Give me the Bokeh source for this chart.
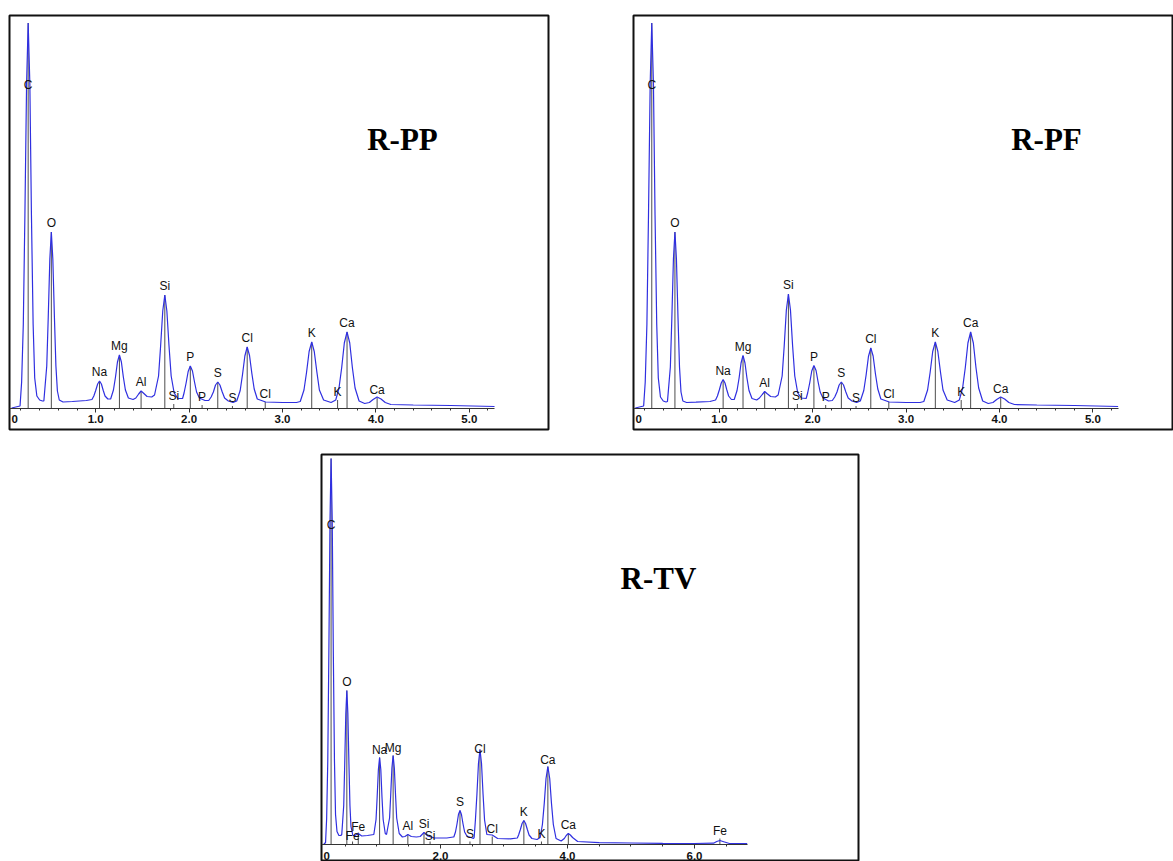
from bokeh.plotting import figure
from bokeh.models import LinearAxis, FixedTicker, Range1d, Spacer, Label, NumeralTickFormatter, ColumnDataSource
from bokeh.layouts import column, row
from bokeh.embed import file_html
from bokeh.resources import INLINE
from bokeh.core.properties import value

# ---------------- data (energy in keV, intensity in arbitrary counts) ----------------
# R-PP spectrum trace
rpp_energy = [0.10, 0.19, 0.207, 0.225, 0.242, 0.26, 0.277, 0.295, 0.312, 0.33, 0.347, 0.37, 0.40, 0.43,
              0.445, 0.476, 0.492, 0.509, 0.525, 0.541, 0.558, 0.574, 0.59, 0.61, 0.65, 0.75, 0.90,
              0.96, 0.98, 1.00, 1.021, 1.041, 1.061, 1.081, 1.10, 1.13,
              1.16, 1.19, 1.212, 1.233, 1.254, 1.275, 1.296, 1.318, 1.35, 1.40,
              1.43, 1.46, 1.486, 1.51, 1.55, 1.60,
              1.63, 1.673, 1.695, 1.718, 1.74, 1.762, 1.785, 1.808, 1.84, 1.88,
              1.93, 1.946, 1.968, 1.99, 2.013, 2.036, 2.058, 2.08, 2.11, 2.17,
              2.21, 2.236, 2.26, 2.283, 2.307, 2.33, 2.355, 2.38, 2.42, 2.47,
              2.51, 2.547, 2.572, 2.597, 2.622, 2.647, 2.672, 2.697, 2.73, 2.82, 3.00, 3.15,
              3.19, 3.23, 3.258, 3.285, 3.313, 3.34, 3.368, 3.395, 3.44, 3.52,
              3.57, 3.605, 3.634, 3.662, 3.691, 3.72, 3.748, 3.777, 3.82, 3.88,
              3.93, 3.97, 4.013, 4.055, 4.10, 4.16, 4.40, 4.80, 5.27]
rpp_counts = [0, 2, 26, 84, 193, 324, 385, 324, 193, 84, 30, 12, 8, 7,
              7, 42, 91, 149, 176, 149, 91, 42, 17, 8, 6, 6.5, 7.5,
              8.5, 12, 17.5, 24, 27, 24, 17.5, 12, 9,
              9, 18, 31, 46, 53, 46, 31, 18, 10, 8.5,
              10, 14, 17, 15, 11.5, 11,
              13, 32, 62, 97, 113, 97, 62, 32, 15, 9.5,
              9.5, 15, 25, 36.5, 42, 37, 26, 16, 10, 7.5,
              7.5, 11, 16, 23, 26, 23, 16, 10, 7, 5.5,
              7, 17.5, 33.5, 52, 61, 52.5, 34.5, 19, 9, 6, 5.5, 5.5,
              6.5, 18, 36, 56.5, 66, 56.5, 36, 18, 8, 5.5,
              8, 20, 40.5, 65, 76, 65, 40.5, 20, 7, 4.5,
              5.5, 8.5, 11, 9, 5.5, 3.5, 3, 2.5, 1.5]

# R-PF spectrum trace
rpf_energy = [0.10, 0.19, 0.207, 0.225, 0.242, 0.26, 0.277, 0.295, 0.312, 0.33, 0.347, 0.37, 0.40, 0.43,
              0.445, 0.476, 0.492, 0.509, 0.525, 0.541, 0.558, 0.574, 0.59, 0.61, 0.65, 0.75, 0.90,
              0.96, 0.98, 1.00, 1.021, 1.041, 1.061, 1.081, 1.10, 1.13,
              1.16, 1.19, 1.212, 1.233, 1.254, 1.275, 1.296, 1.318, 1.35, 1.40,
              1.43, 1.46, 1.486, 1.51, 1.55, 1.60,
              1.63, 1.673, 1.695, 1.718, 1.74, 1.762, 1.785, 1.808, 1.84, 1.88,
              1.93, 1.946, 1.968, 1.99, 2.013, 2.036, 2.058, 2.08, 2.11, 2.17,
              2.21, 2.236, 2.26, 2.283, 2.307, 2.33, 2.355, 2.38, 2.42, 2.47,
              2.51, 2.547, 2.572, 2.597, 2.622, 2.647, 2.672, 2.697, 2.73, 2.82, 3.00, 3.15,
              3.19, 3.23, 3.258, 3.285, 3.313, 3.34, 3.368, 3.395, 3.44, 3.52,
              3.57, 3.605, 3.634, 3.662, 3.691, 3.72, 3.748, 3.777, 3.82, 3.88,
              3.93, 3.97, 4.013, 4.055, 4.10, 4.16, 4.40, 4.80, 5.27]
rpf_counts = [0, 2, 26, 84, 193, 324, 385, 324, 193, 84, 30, 11, 7, 6,
              6.5, 41, 90, 149, 176, 149, 90, 41, 16, 7, 5.5, 5.8, 6.5,
              8, 12, 18, 25, 28.5, 25, 18, 12, 8.5,
              8.5, 17.5, 30, 45, 52.5, 45, 30, 17.5, 9.5, 8,
              10, 13.5, 16.5, 14.5, 11.5, 11,
              13, 32, 62, 98, 114, 98, 62, 32, 15, 10,
              9.5, 15, 25, 37, 42.5, 37.5, 26, 16, 10, 7,
              7.5, 11, 16, 23, 26, 23, 16, 10, 7, 5.5,
              7, 17.5, 33, 51.5, 60, 52, 34, 19, 9, 6, 5.5, 5.5,
              6.5, 18, 36, 56.5, 66, 56.5, 36, 18, 8, 5.5,
              8, 20, 40.5, 65, 76, 65, 40.5, 20, 7, 4.5,
              5.5, 8.5, 11, 9, 5.5, 3.5, 3, 2.5, 1.5]

# R-TV spectrum trace
rtv_energy = [0.16, 0.19, 0.207, 0.225, 0.242, 0.26, 0.277, 0.295, 0.312, 0.33, 0.347, 0.37, 0.40, 0.43,
              0.445, 0.476, 0.492, 0.509, 0.525, 0.541, 0.558, 0.574, 0.59, 0.62,
              0.65, 0.705, 0.76, 0.85,
              0.95, 0.985, 1.003, 1.022, 1.041, 1.06, 1.078, 1.097, 1.13,
              1.15, 1.198, 1.216, 1.235, 1.254, 1.273, 1.292, 1.31, 1.35, 1.40,
              1.44, 1.486, 1.54, 1.62,
              1.68, 1.74, 1.80, 1.90, 2.10, 2.20,
              2.21, 2.236, 2.26, 2.283, 2.307, 2.33, 2.355, 2.38, 2.42, 2.46, 2.52,
              2.53, 2.55, 2.574, 2.598, 2.622, 2.646, 2.67, 2.694, 2.73, 2.815, 2.90, 3.10,
              3.21, 3.23, 3.258, 3.285, 3.313, 3.34, 3.368, 3.395, 3.44, 3.52,
              3.57, 3.605, 3.634, 3.662, 3.691, 3.72, 3.748, 3.777, 3.82, 3.90,
              3.95, 3.98, 4.013, 4.045, 4.08, 4.16,
              4.50, 5.00, 5.50, 6.00, 6.30, 6.35, 6.40, 6.46, 6.55, 6.83]
rtv_counts = [0, 2, 26, 84, 193, 324, 386, 324, 193, 84, 30, 13, 9, 9,
              10, 39, 81, 131, 154, 131, 81, 39, 18, 9,
              9, 11, 8.5, 9,
              10, 25, 48, 75, 87, 75, 48, 25, 11,
              10, 26.5, 49.5, 76.5, 89, 76.5, 49.5, 26.5, 11, 7.5,
              8, 10, 8, 7.5,
              8, 12, 8.5, 6.5, 6.5, 7.5,
              7.5, 12.5, 20.5, 30, 34, 30, 20.5, 12.5, 8, 7.5, 6,
              7, 24.5, 50.5, 81, 95, 81, 50.5, 24.5, 10, 9.5, 6, 5.7,
              6.5, 9.5, 15, 21, 24, 21, 15, 9.5, 6, 5,
              7, 20, 41, 66, 78, 66, 41, 20, 6, 3.5,
              6, 9, 11, 9.5, 7, 3,
              1.8, 1.5, 1.2, 1.0, 1.3, 3, 4, 2.8, 1, 0.8]

# element marker lines: top panels
top_line_label = ["C", "O", "Na", "Mg", "Al", "Si", "Si", "P", "P", "S", "S", "Cl", "Cl", "K", "K", "Ca", "Ca"]
top_line_energy = [0.277, 0.525, 1.041, 1.254, 1.486, 1.740, 1.836, 2.013, 2.139, 2.307, 2.464,
                   2.622, 2.815, 3.313, 3.590, 3.691, 4.013]
rpp_line_top = [385, 176, 27, 53, 17, 113, 4, 42, 3, 26, 2, 61, 6, 66, 8, 76, 10]
rpp_label_y = [315, 177, 28, 54, 18, 114, 4, 43, 3, 27, 2, 62, 6, 67, 8, 77, 10]
rpf_line_top = [385, 176, 28, 52, 16, 114, 4, 42, 3, 26, 2, 60, 6, 66, 8, 76, 11]
rpf_label_y = [315, 177, 29, 53, 17, 115, 4, 43, 3, 27, 2, 61, 6, 67, 8, 77, 11]

# element marker lines: bottom panel
rtv_line_label = ["C", "O", "Fe", "Fe", "Na", "Mg", "Al", "Si", "Si", "S", "S", "Cl", "Cl", "K", "K", "Ca", "Ca", "Fe"]
rtv_line_energy = [0.277, 0.525, 0.615, 0.705, 1.041, 1.254, 1.486, 1.740, 1.836, 2.307, 2.464,
                   2.622, 2.815, 3.313, 3.590, 3.691, 4.013, 6.400]
rtv_line_top = [386, 154, 3, 12, 87, 89, 10, 12, 3, 34, 3, 95, 8, 24, 3, 78, 11, 6]
rtv_label_y = [312, 155, 1, 10, 87, 89, 11, 13, 1, 35, 3, 88, 8, 25, 3, 77, 12, 6]

# axis ticks
top_major_ticks = [0, 1, 2, 3, 4, 5]
top_minor_ticks = [0.2, 0.4, 0.6, 0.8, 1.2, 1.4, 1.6, 1.8, 2.2, 2.4, 2.6, 2.8, 3.2, 3.4, 3.6, 3.8,
                   4.2, 4.4, 4.6, 4.8, 5.2]
bot_major_ticks = [0, 2, 4, 6]
bot_minor_ticks = [0.5, 1.0, 1.5, 2.5, 3.0, 3.5, 4.5, 5.0, 5.5, 6.5]

titles = ["R-PP", "R-PF", "R-TV"]

SPEC_COLOR = "#2f2fe0"
MARK_COLOR = "#4d4d4d"
LABEL_FONT = "Liberation Sans"


def make_panel(width, height, borders, xr, yr, energy, counts, line_e, line_top, label_y, labels,
               major, minor, axis_end, title, title_pos):
    p = figure(width=width, height=height, x_range=Range1d(*xr), y_range=Range1d(*yr),
               x_axis_type=None, y_axis_type=None, toolbar_location=None,
               output_backend="svg", min_border_left=borders[0], min_border_right=borders[1],
               min_border_top=borders[2], min_border_bottom=borders[3])
    p.outline_line_color = "#111111"
    p.outline_line_width = 2
    p.background_fill_color = "white"
    p.border_fill_color = "white"

    ax = LinearAxis(fixed_location=0, bounds=(xr[0], axis_end),
                    ticker=FixedTicker(ticks=major, minor_ticks=minor),
                    formatter=NumeralTickFormatter(format="0.0"))
    ax.axis_line_color = "#333333"
    ax.axis_line_width = 1
    ax.major_tick_out = 4
    ax.major_tick_in = 0
    ax.minor_tick_out = 2
    ax.minor_tick_in = 0
    ax.major_tick_line_color = "#333333"
    ax.minor_tick_line_color = "#333333"
    ax.major_label_standoff = 3
    ax.major_label_text_font = LABEL_FONT
    ax.major_label_text_font_size = "11.5px"
    ax.major_label_text_font_style = "bold"
    ax.major_label_text_color = "#111111"
    p.add_layout(ax, "below")

    # "0" label at the left edge of the axis
    p.text(x=[xr[0]], y=[0], text=[str(major[0])], x_offset=2, y_offset=7,
           text_font=value(LABEL_FONT), text_font_size="11.5px", text_font_style="bold",
           text_color="#111111", text_align="left", text_baseline="top")

    # element marker lines
    src = ColumnDataSource(dict(x=line_e, top=line_top, ly=label_y, lab=labels,
                                base=[0] * len(line_e)))
    p.segment(x0="x", y0="base", x1="x", y1="top", source=src, line_color=MARK_COLOR, line_width=1)

    # spectrum
    p.line(energy, counts, line_color=SPEC_COLOR, line_width=1.2)

    # element labels
    p.text(x="x", y="ly", text="lab", source=src, text_font=value(LABEL_FONT), text_font_size="12px",
           text_color="#111111", text_align="center", text_baseline="bottom", y_offset=-1)

    p.add_layout(Label(x=title_pos[0], y=title_pos[1], text=title, text_font="Liberation Serif",
                       text_font_size="31px", text_font_style="bold", text_color="black",
                       text_align="center", text_baseline="middle"))
    return p


p1 = make_panel(542, 418, (1, 2, 2, 2), (0.0771, 5.848), (-21.5, 392.5), rpp_energy, rpp_counts,
                top_line_energy, rpp_line_top, rpp_label_y, top_line_label,
                top_major_ticks, top_minor_ticks, 5.27, titles[0], (4.285, 268.5))
p2 = make_panel(542, 418, (2, 0, 2, 2), (0.0814, 5.863), (-21.5, 392.5), rpf_energy, rpf_counts,
                top_line_energy, rpf_line_top, rpf_label_y, top_line_label,
                top_major_ticks, top_minor_ticks, 5.27, titles[1], (4.503, 268.5))
p3 = make_panel(541, 409, (2, 2, 2, 0), (0.126, 8.583), (-17, 390), rtv_energy, rtv_counts,
                rtv_line_energy, rtv_line_top, rtv_label_y, rtv_line_label,
                bot_major_ticks, bot_minor_ticks, 6.83, titles[2], (5.433, 266))

layout = column(
    Spacer(width=10, height=13),
    row(Spacer(width=8, height=418), p1, Spacer(width=81, height=418), p2),
    Spacer(width=10, height=21),
    row(Spacer(width=319, height=409), p3),
)

open("out.html", "w").write(file_html(layout, INLINE))
